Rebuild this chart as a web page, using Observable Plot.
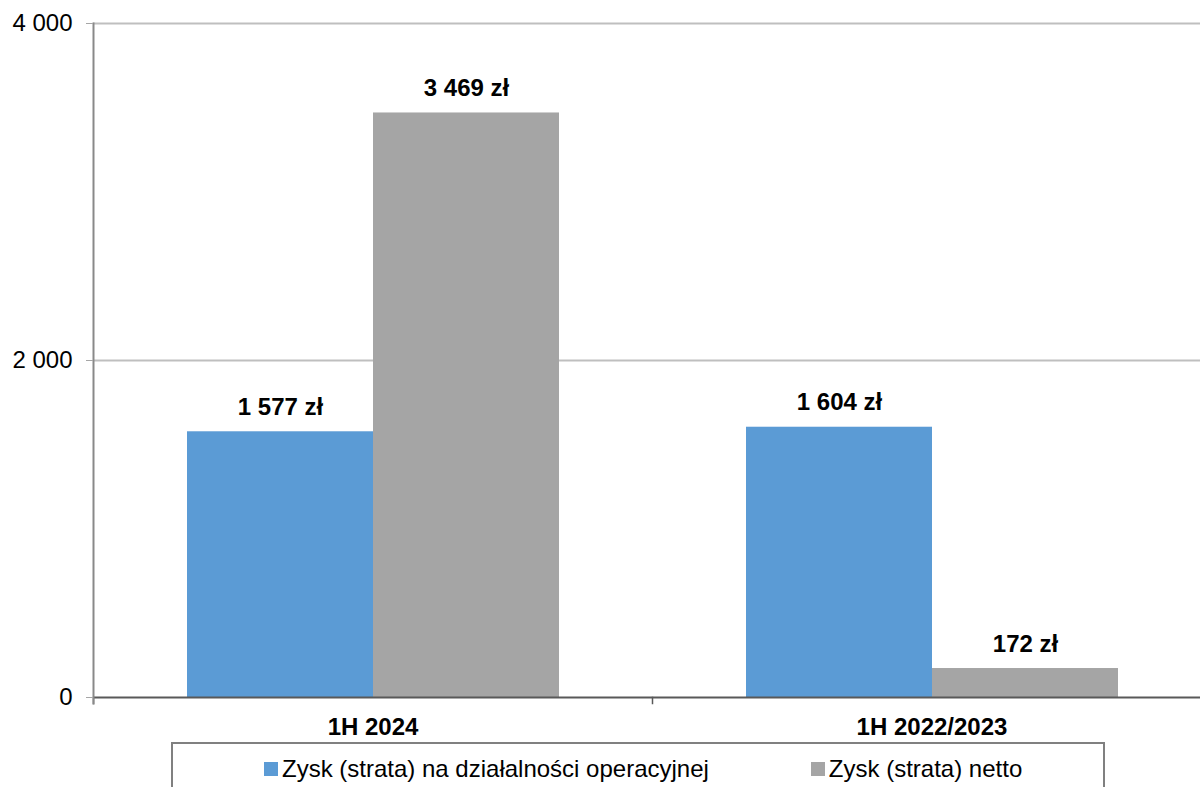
<!DOCTYPE html>
<html>
<head>
<meta charset="utf-8">
<script src="https://cdn.jsdelivr.net/npm/d3@7"></script>
<script src="https://cdn.jsdelivr.net/npm/@observablehq/plot@0.6"></script>
<style>
  body { margin: 0; background: #fff; font-family: "Liberation Sans", Arial, sans-serif; }
  #wrap { width: 1200px; height: 787px; overflow: hidden; position: relative; background: #fff; }
  #chart svg { max-width: none !important; display: block; }
  #legend {
    position: absolute; left: 171px; top: 742px; width: 934px; height: 70px;
    box-sizing: border-box; border: 2px solid #808080; padding-left: 91px;
    display: flex; align-items: flex-start; font-size: 24px; color: #000;
  }
  #legend .item { height: 50px; display: flex; align-items: center; white-space: nowrap; }
  #legend .item + .item { margin-left: 102px; }
  #legend .sw { width: 14px; height: 14px; margin-right: 4px; display: inline-block; }
</style>
</head>
<body>
<div id="wrap"><div id="chart"></div><div id="legend"></div></div>
<script>
const categories = ["1H 2024", "1H 2022/2023"];
const series = ["Zysk (strata) na działalności operacyjnej", "Zysk (strata) netto"];
const operating = [1577, 1604];
const net = [3469, 172];
const colors = ["#5b9bd5", "#a5a5a5"];
const yTicks = [0, 2000, 4000];
const gridTicks = [2000, 4000];

const data = categories.flatMap((c, i) => [
  {category: c, series: series[0], value: operating[i]},
  {category: c, series: series[1], value: net[i]}
]);
const fmt = v => d3.format(",")(v).replace(/,/g, " ");

const H = 740, mt = 23, mb = 43;
const chart = Plot.plot({
  width: 1211, height: H,
  marginLeft: 92, marginRight: 0, marginTop: mt, marginBottom: mb,
  style: {fontFamily: "'Liberation Sans', Arial, sans-serif", fontSize: "24px", color: "#000", background: "#fff", overflow: "visible", maxWidth: "none"},
  fx: {domain: categories, padding: 0, label: null},
  x: {domain: series, paddingInner: 0, paddingOuter: 0.5, axis: null},
  y: {domain: [0, 4000], axis: null},
  color: {domain: series, range: colors},
  marks: [
    Plot.gridY(gridTicks, {stroke: "#bfbfbf", strokeOpacity: 1, strokeWidth: 2}),
    Plot.barY(data, {fx: "category", x: "series", y: "value", fill: "series"}),
    Plot.text(data, {fx: "category", x: "series", y: "value", text: d => fmt(d.value) + " zł",
      lineAnchor: "bottom", dy: -17, fontWeight: "bold", fontSize: 24, fill: "#000"}),
    Plot.ruleY([0], {stroke: "#595959", strokeWidth: 2}),
    Plot.frame({anchor: "left", stroke: "#595959", strokeWidth: 1.5, insetTop: H - mt - mb, insetBottom: -6}),
    Plot.frame({anchor: "left", facetAnchor: "left", stroke: "#898989", strokeWidth: 2, insetBottom: -6}),
    Plot.axisY(yTicks, {anchor: "left", tickSize: 7, tickPadding: 14, tickFormat: fmt,
      stroke: "#a6a6a6", fill: "#000", fontSize: 24, label: null}),
    Plot.axisFx({anchor: "bottom", tickSize: 0, tickPadding: 20, fontWeight: "bold", fontSize: 24, fill: "#000", label: null})
  ]
});
document.getElementById("chart").appendChild(chart);

const legend = document.getElementById("legend");
series.forEach((s, i) => {
  const item = document.createElement("span");
  item.className = "item";
  const sw = document.createElement("span");
  sw.className = "sw";
  sw.style.background = colors[i];
  item.appendChild(sw);
  item.appendChild(document.createTextNode(s));
  legend.appendChild(item);
});
</script>
</body>
</html>
